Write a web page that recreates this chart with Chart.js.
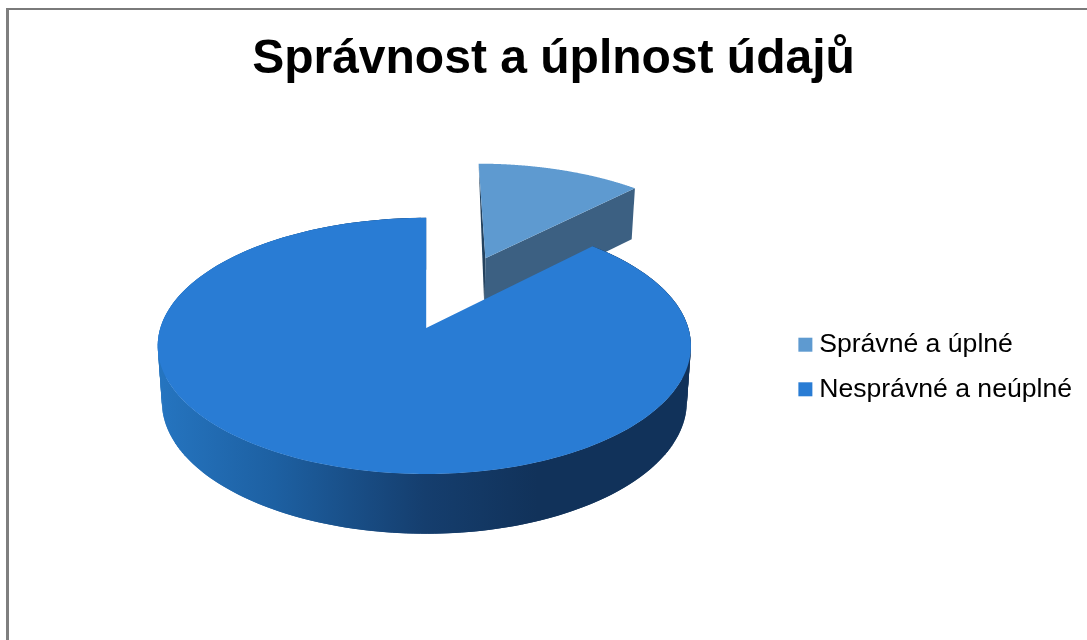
<!DOCTYPE html>
<html>
<head>
<meta charset="utf-8">
<style>
html,body{margin:0;padding:0;background:#fff;overflow:hidden}
#wrap{position:absolute;left:0;top:0;width:1087px;height:640px}
#frame{position:absolute;left:6px;top:8px;right:-10px;bottom:-10px;border-left:3px solid #7f7f7f;border-top:2px solid #7a7a7a;pointer-events:none}
</style>
<script src="https://cdn.jsdelivr.net/npm/chart.js@4/dist/chart.umd.min.js"></script>
</head>
<body>
<div id="wrap"><canvas id="c" width="1087" height="640"></canvas><div id="frame"></div></div>
<script>
const titleText = 'Správnost a úplnost údajů';
const categories = ['Správné a úplné', 'Nesprávné a neúplné'];
const shareValues = [12.3, 87.7];
const topColors = ['#5e9ad0', '#297cd4'];

// 3D look: homography of the library's arc geometry
const view = { dx: 20.25, dy: -39, kx: 0.967, ky: 0.46, p: 0.14, skewL: 1.007, skewR: 0.993,
               lowKx: 0.952, lowKy: 0.4742, lowDy: 0.2023, explode: [0.65, 0] };
const wallStops = [[0,'#2574bf'],[0.3,'#1d60a2'],[0.7,'#153e6e'],[1,'#11325a']];
const smallWall = '#3c6082', smallSliver = '#24425e';

const pie3d = {
  id: 'pie3d',
  beforeDatasetDraw(chart, args) {
    const ctx = chart.ctx;
    const arcs = chart.getDatasetMeta(args.index).data;
    const first = arcs[0].getProps(['x','y','outerRadius'], true);
    const R = first.outerRadius, cx = first.x + view.dx, cy = first.y + view.dy;
    const proj = (u, v, low) => {
      const d = 1 - view.p * v;
      const side = u < 0 ? view.skewL : view.skewR;
      return low
        ? [cx + R*view.lowKx*side*u/d, cy + R*view.lowDy + R*view.lowKy*v/d]
        : [cx + R*view.kx*side*u/d, cy + R*view.ky*v/d];
    };
    const poly = (pts, fill) => {
      ctx.beginPath();
      pts.forEach((p,i) => i ? ctx.lineTo(p[0],p[1]) : ctx.moveTo(p[0],p[1]));
      ctx.closePath(); ctx.fillStyle = fill; ctx.fill();
    };
    const geo = arcs.map((el, i) => {
      const g = el.getProps(['startAngle','endAngle'], true);
      const mid = (g.startAngle + g.endAngle)/2, e = view.explode[i];
      const ox = e*Math.cos(mid), oy = e*Math.sin(mid);
      const rim = low => {
        const out = [];
        const n = 240;
        for (let k=0;k<=n;k++){
          const a = g.startAngle + (g.endAngle-g.startAngle)*k/n;
          out.push(proj(ox+Math.cos(a), oy+Math.sin(a), low));
        }
        return out;
      };
      return {ox, oy, rim};
    });
    ctx.save();
    // small slice: side faces, then top
    const s = geo[0], st = s.rim(false), sb = s.rim(true);
    const aT = proj(s.ox,s.oy,false), aB = proj(s.ox,s.oy,true);
    poly([aT, st[0], aB], smallSliver);
    poly([aT, st[st.length-1], sb[sb.length-1], aB], smallWall);
    poly([aT].concat(st), topColors[0]);
    // large slice: outer wall swept quad by quad, then top
    const b = geo[1], bt = b.rim(false), bb = b.rim(true);
    const grad = ctx.createLinearGradient(cx - R*view.kx, 0, cx + R*view.kx*0.42, 0);
    wallStops.forEach(w => grad.addColorStop(w[0], w[1]));
    for (let i=0;i<bt.length-2;i++){
      poly([bt[i], bt[i+2], bb[i+2], bb[i]], grad);
    }
    poly([proj(b.ox,b.oy,false)].concat(bt), topColors[1]);
    ctx.restore();
    return false;
  }
};

new Chart(document.getElementById('c'), {
  type: 'pie',
  plugins: [pie3d],
  data: {
    labels: categories,
    datasets: [{ data: shareValues, backgroundColor: topColors, borderWidth: 0, hoverOffset: 0 }]
  },
  options: {
    responsive: false,
    animation: false,
    events: [],
    rotation: 0,
    layout: { padding: { left: 25, right: 5, top: 0, bottom: 0 } },
    plugins: {
      tooltip: { enabled: false },
      title: {
        display: true, text: titleText, color: '#000',
        font: { family: '"Liberation Sans", Arial, sans-serif', size: 48, weight: 'bold' },
        padding: { top: 31, bottom: 5.4 }
      },
      legend: {
        position: 'right',
        fullSize: false,
        labels: {
          color: '#000',
          font: { family: '"Liberation Sans", Arial, sans-serif', size: 26.6 },
          boxWidth: 1, boxHeight: 1, padding: 18,
          generateLabels(chart) {
            return categories.map((t, i) => ({
              text: t, fillStyle: topColors[i], strokeStyle: topColors[i],
              lineWidth: 13, index: i
            }));
          }
        }
      }
    }
  }
});
</script>
</body>
</html>
